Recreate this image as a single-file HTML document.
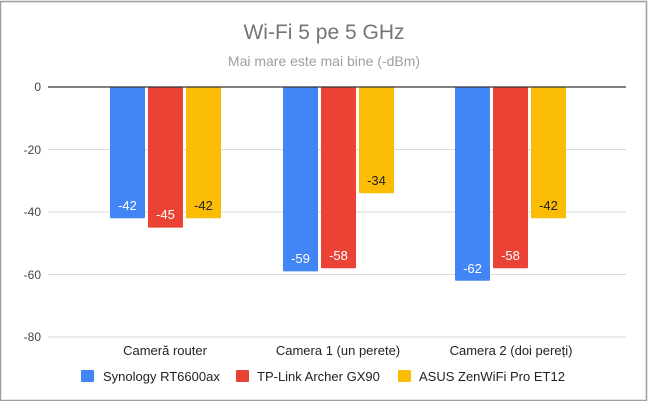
<!DOCTYPE html>
<html><head><meta charset="utf-8"><style>
html,body{margin:0;padding:0;background:#fff;}
svg{display:block;font-family:"Liberation Sans",sans-serif;}
</style></head><body>
<svg width="648" height="401" viewBox="0 0 648 401" xmlns="http://www.w3.org/2000/svg">
<rect x="0" y="0" width="648" height="401" fill="#fff"/>
<rect x="0.5" y="1.5" width="646" height="399" fill="none" stroke="#9e9e9e" stroke-width="1.5"/>
<text x="324" y="39" text-anchor="middle" font-size="21" fill="#757575">Wi-Fi 5 pe 5 GHz</text>
<text x="324" y="66" text-anchor="middle" font-size="14" fill="#9e9e9e">Mai mare este mai bine (-dBm)</text>
<g stroke="#d9d9d9" stroke-width="1">
<line x1="48" x2="626" y1="149.5" y2="149.5"/>
<line x1="48" x2="626" y1="212" y2="212"/>
<line x1="48" x2="626" y1="274.5" y2="274.5"/>
<line x1="48" x2="626" y1="337" y2="337"/>
</g>
<g font-size="12" fill="#444" text-anchor="end">
<text x="41" y="91">0</text>
<text x="41" y="154">-20</text>
<text x="41" y="216">-40</text>
<text x="41" y="279">-60</text>
<text x="41" y="341">-80</text>
</g>
<g>
<rect x="110" y="87" width="35" height="131.3" fill="#4285f4" rx="1"/>
<rect x="148" y="87" width="35" height="140.6" fill="#ea4335" rx="1"/>
<rect x="186" y="87" width="35" height="131.3" fill="#fbbc04" rx="1"/>
<rect x="283" y="87" width="35" height="184.4" fill="#4285f4" rx="1"/>
<rect x="321" y="87" width="35" height="181.3" fill="#ea4335" rx="1"/>
<rect x="359" y="87" width="35" height="106.3" fill="#fbbc04" rx="1"/>
<rect x="455" y="87" width="35" height="193.8" fill="#4285f4" rx="1"/>
<rect x="493" y="87" width="35" height="181.3" fill="#ea4335" rx="1"/>
<rect x="531" y="87" width="35" height="131.3" fill="#fbbc04" rx="1"/>
</g>
<line x1="48" x2="626" y1="87" y2="87" stroke="#333" stroke-width="1.2"/>
<g font-size="13" text-anchor="middle">
<text x="127.5" y="210" fill="#fff">-42</text>
<text x="165.5" y="219" fill="#fff">-45</text>
<text x="203.5" y="210" fill="#222">-42</text>
<text x="300.5" y="263" fill="#fff">-59</text>
<text x="338.5" y="260" fill="#fff">-58</text>
<text x="376.5" y="185" fill="#222">-34</text>
<text x="472.5" y="273" fill="#fff">-62</text>
<text x="510.5" y="260" fill="#fff">-58</text>
<text x="548.5" y="210" fill="#222">-42</text>
</g>
<g font-size="13" fill="#222" text-anchor="middle">
<text x="165" y="355">Cameră router</text>
<text x="338" y="355">Camera 1 (un perete)</text>
<text x="511" y="355">Camera 2 (doi pereți)</text>
</g>
<rect x="81" y="370" width="13" height="12" fill="#4285f4" rx="1"/>
<rect x="236" y="370" width="13" height="12" fill="#ea4335" rx="1"/>
<rect x="398" y="370" width="13" height="12" fill="#fbbc04" rx="1"/>
<g font-size="13" fill="#222">
<text x="103" y="381">Synology RT6600ax</text>
<text x="257" y="381">TP-Link Archer GX90</text>
<text x="419" y="381">ASUS ZenWiFi Pro ET12</text>
</g>
</svg>
</body></html>
